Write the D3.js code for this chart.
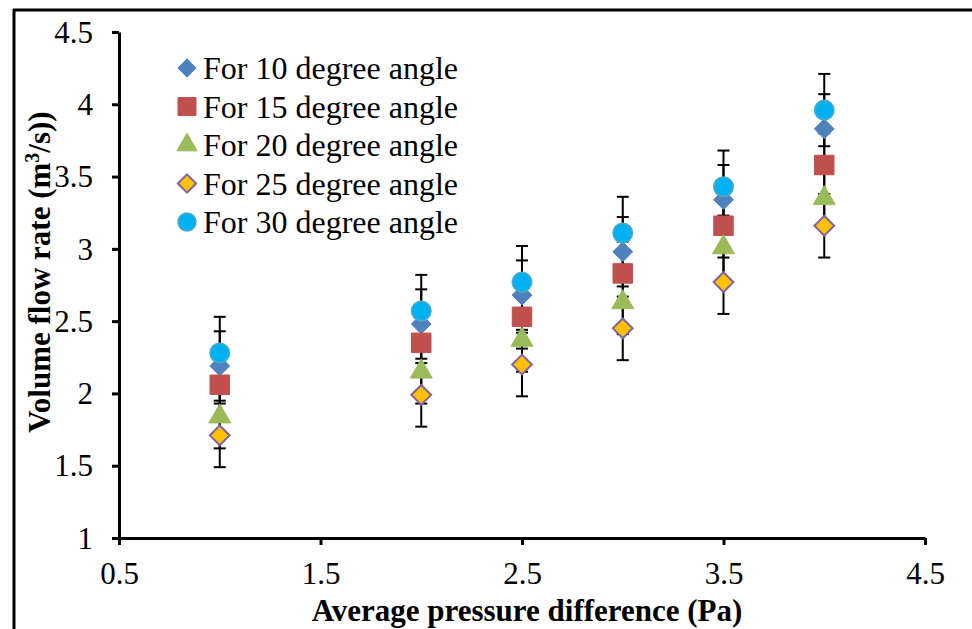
<!DOCTYPE html>
<html>
<head>
<meta charset="utf-8">
<script src="https://cdn.jsdelivr.net/npm/d3@7/dist/d3.min.js"></script>
<style>
  body { margin: 0; background: #fff; }
  svg { display: block; }
  text { font-family: "Liberation Serif", "Times New Roman", serif; fill: #000; }
</style>
</head>
<body>
<div id="chart"></div>
<script>
// data
var pressure = [1, 2, 2.5, 3, 3.5, 4];
var names = ["For 10 degree angle", "For 15 degree angle", "For 20 degree angle",
             "For 25 degree angle", "For 30 degree angle"];
var flow10 = [2.19, 2.48, 2.68, 2.98, 3.34, 3.83];
var flow15 = [2.06, 2.35, 2.53, 2.83, 3.16, 3.58];
var flow20 = [1.84, 2.15, 2.37, 2.63, 3.01, 3.35];
var flow25 = [1.71, 1.99, 2.20, 2.45, 2.77, 3.16];
var flow30 = [2.28, 2.57, 2.77, 3.11, 3.43, 3.96];
var errors = [0.24, 0.22, 0.22, 0.22, 0.25];
var xTicks = [0.5, 1.5, 2.5, 3.5, 4.5];
var yTicks = [1, 1.5, 2, 2.5, 3, 3.5, 4, 4.5];

var width = 972, height = 629;
var svg = d3.select("#chart").append("svg")
  .attr("width", width)
  .attr("height", height);

// outer frame (top and left edges only visible)
svg.append("line").attr("x1", 13).attr("x2", width).attr("y1", 10).attr("y2", 10)
  .attr("stroke", "#000").attr("stroke-width", 3);
svg.append("line").attr("x1", 14).attr("x2", 14).attr("y1", 9).attr("y2", height)
  .attr("stroke", "#000").attr("stroke-width", 3);

var xScale = d3.scaleLinear().domain([0.5, 4.5]).range([119, 925]);
var yScale = d3.scaleLinear().domain([1, 4.5]).range([538, 32]);

//==================
// axes
var xAxis = d3.axisBottom(xScale).tickValues(xTicks).tickSize(7).tickSizeOuter(0)
  .tickFormat(d3.format(".1f"));
var yAxis = d3.axisLeft(yScale).tickValues(yTicks).tickSize(7).tickSizeOuter(0)
  .tickFormat(function(d) { return d % 1 === 0 ? d : d.toFixed(1); });

var gx = svg.append("g").attr("transform", "translate(0," + yScale(1) + ")").call(xAxis);
var gy = svg.append("g").attr("transform", "translate(" + xScale(0.5) + ",0)").call(yAxis);

[gx, gy].forEach(function(g) {
  g.select(".domain").attr("stroke", "#000").attr("stroke-width", 3);
  g.selectAll(".tick line").attr("stroke", "#000").attr("stroke-width", 3);
  g.selectAll(".tick text").style("font-family", "Liberation Serif").style("font-size", "31px");
});
gx.selectAll(".tick text").attr("y", 46).attr("dy", 0);
gy.selectAll(".tick text").attr("x", -26).attr("dy", "0.33em");

// axis titles
svg.append("text")
  .attr("x", 527).attr("y", 621)
  .attr("text-anchor", "middle")
  .style("font-size", "31px").style("font-weight", "bold")
  .text("Average pressure difference (Pa)");

var yTitle = svg.append("text")
  .attr("transform", "translate(50,272) rotate(-90)")
  .attr("text-anchor", "middle")
  .style("font-size", "31px").style("font-weight", "bold");
yTitle.append("tspan").text("Volume flow rate (m");
yTitle.append("tspan").attr("dy", -11).style("font-size", "20px").text("3");
yTitle.append("tspan").attr("dy", 11).text("/s))");

//========================
// series definitions
var series = [
  { name: names[0], values: flow10, err: errors[0], shape: d3.symbolDiamond2, size: 250, fill: "#4F81BD", stroke: "#4F81BD", sw: 1 },
  { name: names[1], values: flow15, err: errors[1], shape: d3.symbolSquare,   size: 380, fill: "#C0504D", stroke: "#C0504D", sw: 1 },
  { name: names[2], values: flow20, err: errors[2], shape: d3.symbolTriangle, size: 210, fill: "#9BBB59", stroke: "#9BBB59", sw: 1 },
  { name: names[3], values: flow25, err: errors[3], shape: d3.symbolDiamond2, size: 250, fill: "#FFC000", stroke: "#8064A2", sw: 2 },
  { name: names[4], values: flow30, err: errors[4], shape: d3.symbolCircle,   size: 300, fill: "#00B0F0", stroke: "#4BACC6", sw: 1.5 }
];

// error bars first, markers on top
var errG = svg.append("g");
series.forEach(function(s) {
  var pts = pressure.map(function(p, i) { return { x: p, y: s.values[i], e: s.err }; });
  var g = errG.selectAll(null).data(pts).enter().append("g");
  g.append("line")
    .attr("x1", d => xScale(d.x)).attr("x2", d => xScale(d.x))
    .attr("y1", d => yScale(d.y - d.e)).attr("y2", d => yScale(d.y + d.e))
    .attr("stroke", "#000").attr("stroke-width", 2);
  [-1, 1].forEach(function(sgn) {
    g.append("line")
      .attr("x1", d => xScale(d.x) - 6).attr("x2", d => xScale(d.x) + 6)
      .attr("y1", d => yScale(d.y + sgn * d.e)).attr("y2", d => yScale(d.y + sgn * d.e))
      .attr("stroke", "#000").attr("stroke-width", 2);
  });
});

series.forEach(function(s) {
  svg.append("g").selectAll("path")
    .data(pressure.map(function(p, i) { return [p, s.values[i]]; }))
    .enter().append("path")
    .attr("transform", d => "translate(" + xScale(d[0]) + "," + yScale(d[1]) + ")")
    .attr("d", d3.symbol().type(s.shape).size(s.size))
    .attr("fill", s.fill)
    .attr("stroke", s.stroke)
    .attr("stroke-width", s.sw);
});

// legend
var legend = svg.append("g").attr("transform", "translate(187,68)");
var rows = legend.selectAll("g").data(series).enter().append("g")
  .attr("transform", (d, i) => "translate(0," + (i * 38.5) + ")");
rows.append("path")
  .attr("d", d => d3.symbol().type(d.shape).size(d.size * 0.85)())
  .attr("fill", d => d.fill)
  .attr("stroke", d => d.stroke)
  .attr("stroke-width", d => d.sw);
rows.append("text")
  .attr("x", 16).attr("dy", "0.35em")
  .style("font-size", "32px")
  .text(d => d.name);
</script>
</body>
</html>
